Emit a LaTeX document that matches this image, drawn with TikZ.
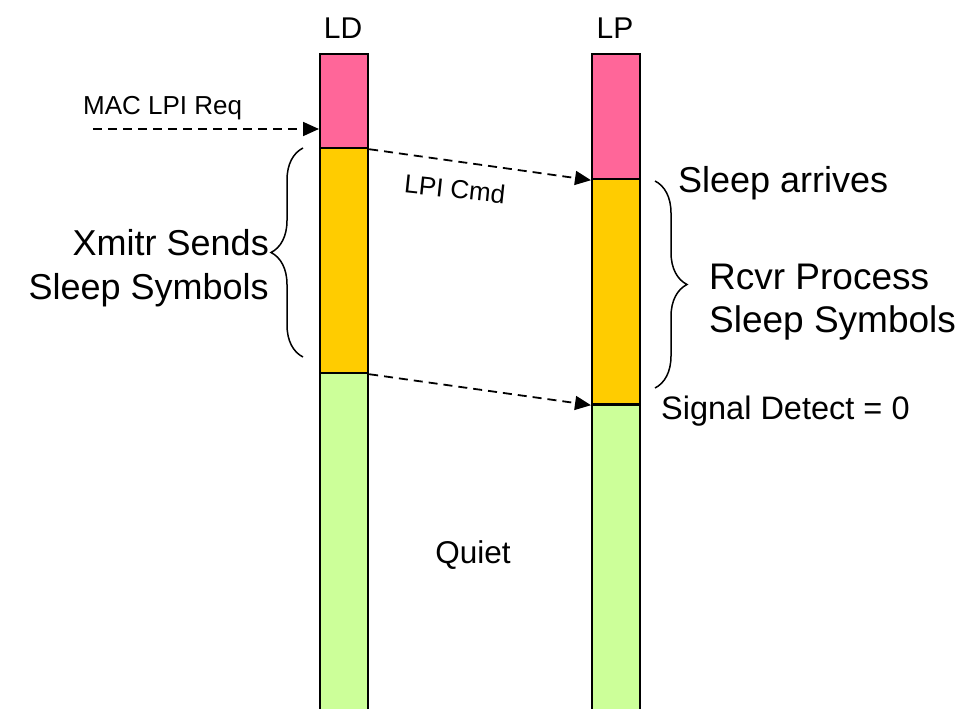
\documentclass[tikz,border=0pt]{standalone}
\usepackage{fontspec}
\setmainfont{Liberation Sans}
\usetikzlibrary{arrows.meta,decorations.pathreplacing}
\definecolor{pinkc}{HTML}{FF6699}
\definecolor{yellowc}{HTML}{FFCC00}
\definecolor{greenc}{HTML}{CCFF99}
\tikzset{
  seg/.style={draw=black, line width=2.2pt, minimum width=48pt, inner sep=0pt, anchor=north west},
  dasharrow/.style={dash pattern=on 9pt off 6pt, line width=1.8pt, -{Triangle[length=16pt,width=14pt]}},
  bracestyle/.style={decorate, decoration={brace, amplitude=32pt}, line width=1.5pt},
  lbl/.style={inner sep=0pt, text=black},
}
\newcommand{\fs}[1]{\fontsize{#1}{#1}\selectfont}
\begin{document}
\begin{tikzpicture}[x=1pt,y=-1pt]
\path[use as bounding box, clip] (0,0) rectangle (964,709);
\fill[white] (0,0) rectangle (964,709);
% LD column
\node[seg, fill=pinkc, minimum height=94pt] (ld1) at (319,53) {};
\node[seg, fill=yellowc, minimum height=225pt] (ld2) at (319,147) {};
\node[seg, fill=greenc, minimum height=360pt] (ld3) at (319,372) {};
% LP column
\node[seg, fill=pinkc, minimum height=125pt] (lp1) at (591,53) {};
\node[seg, fill=yellowc, minimum height=225pt] (lp2) at (591,178) {};
\node[seg, fill=greenc, minimum height=330pt] (lp3) at (591,404) {};
% titles
\node[lbl, font=\fs{30}] (ld) at (343,28) {LD};
\node[lbl, font=\fs{30}] (lp) at (615,28) {LP};
% arrows
\coordinate (macstart) at (93,129);
\draw[dasharrow] (macstart) -- (macstart -| ld1.west);
\draw[dasharrow] (ld1.south east) -- (lp1.south west);
\draw[dasharrow] (ld2.south east) -- (lp2.south west);
% labels
\node[lbl, anchor=west, font=\fs{26}] (mac) at (83,108) {MAC LPI Req};
\node[lbl, font=\fs{26}, rotate=-6] (cmd) at (455,189) {LPI Cmd};
\node[lbl, anchor=west, font=\fs{36}] (arr) at (678,183) {Sleep arrives};
\node[lbl, anchor=west, font=\fs{32.5}] (sig) at (661,411) {Signal Detect = 0};
\node[lbl, font=\fs{31.5}] (quiet) at (473,555) {Quiet};
% braces
\coordinate (lbt) at (303,148);
\coordinate (lbb) at (303,357);
\draw[bracestyle] (lbb) -- (lbt);
\coordinate (rbt) at (655,181);
\coordinate (rbb) at (655,388);
\draw[bracestyle] (rbt) -- (rbb);
\node[lbl, anchor=east, align=right, font=\fontsize{36}{44}\selectfont] (xmitr) at (269,268) {Xmitr Sends\\Sleep Symbols};
\node[lbl, anchor=west, align=left, font=\fontsize{37}{43}\selectfont] (rcvr) at (709,302) {Rcvr Process\\Sleep Symbols};
\end{tikzpicture}
\end{document}
